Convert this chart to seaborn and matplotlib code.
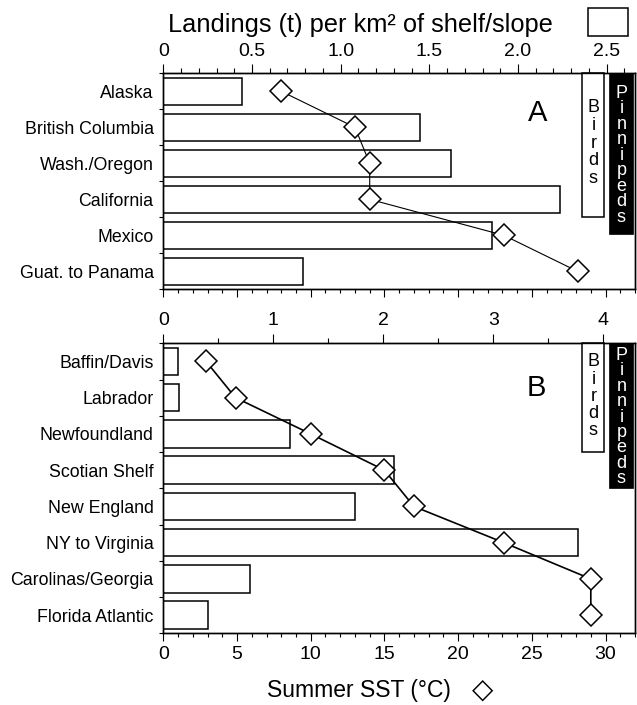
import numpy as np
import matplotlib
matplotlib.use("Agg")
import matplotlib.pyplot as plt
from matplotlib.patches import Rectangle
from matplotlib.ticker import MultipleLocator, FuncFormatter
import seaborn as sns

# panel A - Pacific coast
regions_a = ["Alaska", "British Columbia", "Wash./Oregon", "California",
             "Mexico", "Guat. to Panama"]
landings_a = [0.445, 1.45, 1.62, 2.235, 1.855, 0.79]
sst_a = [8.0, 13.0, 14.0, 14.0, 23.1, 28.1]

# panel B - Atlantic coast
regions_b = ["Baffin/Davis", "Labrador", "Newfoundland", "Scotian Shelf",
             "New England", "NY to Virginia", "Carolinas/Georgia", "Florida Atlantic"]
landings_b = [0.13, 0.145, 1.15, 2.1, 1.74, 3.77, 0.79, 0.41]
sst_b = [2.9, 4.9, 10.0, 15.0, 17.0, 23.1, 29.0, 29.0]

sns.set_style("ticks")
plt.rcParams["font.family"] = ["Liberation Sans", "DejaVu Sans"]
plt.rcParams["axes.edgecolor"] = "black"
plt.rcParams["axes.linewidth"] = 1.0
plt.rcParams["text.color"] = "black"
plt.rcParams["xtick.color"] = "black"
plt.rcParams["ytick.color"] = "black"
plt.rcParams["xtick.labelcolor"] = "black"
plt.rcParams["ytick.labelcolor"] = "black"

fig = plt.figure(figsize=(6.37, 7.05), dpi=100)
ax_a = fig.add_axes([0.2564, 0.5896, 0.7405, 0.3064])
ax_b = fig.add_axes([0.2564, 0.1017, 0.7405, 0.4113])


def land_fmt(v, pos):
    if abs(v) < 1e-9:
        return "0"
    return f"{v:.1f}"


def int_fmt(v, pos):
    return f"{v:.0f}"


def draw_panel(ax, regions, landings, sst, xmax, major, minor, fmt, letter,
               letter_y, birds, pinn, sst_labels, line_w, top_pad):
    n = len(regions)
    sns.barplot(x=landings, y=regions, orient="h", color="white", saturation=1,
                edgecolor="black", linewidth=1.1, width=0.76, ax=ax)

    # SST on the bottom axis (twin made first, twiny resets the parent ticks)
    ax2 = ax.twiny()
    ax2.set_xlim(0, 32)
    ax2.xaxis.tick_bottom()
    ax2.xaxis.set_major_locator(MultipleLocator(5))
    ax2.xaxis.set_minor_locator(MultipleLocator(1))
    ax2.tick_params(axis="x", which="major", length=5.5, width=0.8,
                    labelsize=14, pad=4, labelbottom=sst_labels, labeltop=False)
    ax2.tick_params(axis="x", which="minor", length=3, width=0.8)
    ax2.plot(sst, np.arange(n), color="black", lw=line_w, marker="D",
             markersize=11, markerfacecolor="white", markeredgecolor="black",
             markeredgewidth=1.1, zorder=5)

    ax.set_xlim(0, xmax)
    ax.set_ylim(n - 0.5, -0.5)
    ax.xaxis.tick_top()
    ax.xaxis.set_major_locator(MultipleLocator(major))
    ax.xaxis.set_minor_locator(MultipleLocator(minor))
    ax.xaxis.set_major_formatter(FuncFormatter(fmt))
    ax.tick_params(axis="x", which="major", length=6.5, width=0.8,
                   labelsize=14, pad=top_pad, top=True, bottom=False,
                   labeltop=True, labelbottom=False)
    ax.tick_params(axis="x", which="minor", length=3.5, width=0.8,
                   top=True, bottom=False)
    # category boundaries get tick marks, names sit between them
    ax.set_yticks(np.arange(n + 1) - 0.5)
    ax.set_yticklabels([])
    ax.set_yticks(np.arange(n), labels=regions, minor=True)
    ax.tick_params(axis="y", which="major", length=3, width=0.8)
    ax.tick_params(axis="y", which="minor", length=0, labelsize=12.8, pad=7)
    ax.set_xlabel("")
    ax.set_ylabel("")
    for s in ax.spines.values():
        s.set_visible(True)

    # Birds / Pinnipeds boxes
    bx0, bx1, by0 = birds
    ax.add_patch(Rectangle((bx0, by0), bx1 - bx0, 1 - by0, transform=ax.transAxes,
                           facecolor="white", edgecolor="black", lw=1.1,
                           clip_on=False, zorder=3))
    px0, px1, py0 = pinn
    ax.add_patch(Rectangle((px0, py0), px1 - px0, 1 - py0, transform=ax.transAxes,
                           facecolor="black", edgecolor="black", lw=0.5,
                           clip_on=False, zorder=3))
    ax.text(letter[1], letter_y, letter[0], transform=ax.transAxes, fontsize=21,
            ha="center", va="center")
    return ax2


ax2_a = draw_panel(ax_a, regions_a, landings_a, sst_a, 2.66, 0.5, 0.1, land_fmt,
                   ("A", 0.794), 0.815, (0.888, 0.935, 0.336),
                   (0.9455, 0.9964, 0.256), False, 0.8, 3.2)
ax2_b = draw_panel(ax_b, regions_b, landings_b, sst_b, 4.29, 1, 0.5, int_fmt,
                   ("B", 0.791), 0.845, (0.888, 0.935, 0.626),
                   (0.9455, 0.9964, 0.502), True, 1.2, 3.6)

# vertical labels in the boxes
ax_a.text(0.9116, 0.880, "\n".join("Birds"), transform=ax_a.transAxes,
          fontsize=13, ha="center", va="top", linespacing=1.05, zorder=4)
ax_a.text(0.971, 0.946, "\n".join("Pinnipeds"), transform=ax_a.transAxes,
          fontsize=13, ha="center", va="top", linespacing=0.88, color="white",
          zorder=4)
ax_b.text(0.9116, 0.9655, "\n".join("Birds"), transform=ax_b.transAxes,
          fontsize=13, ha="center", va="top", linespacing=1.02, zorder=4)
ax_b.text(0.971, 0.988, "\n".join("Pinnipeds"), transform=ax_b.transAxes,
          fontsize=13, ha="center", va="top", linespacing=0.88, color="white",
          zorder=4)

# axis titles
fig.text(0.566, 0.955, "Landings (t) per km² of shelf/slope", fontsize=18.3,
         ha="center", va="baseline")
fig.patches.append(Rectangle((0.9236, 0.949), 0.0619, 0.0393,
                             transform=fig.transFigure, facecolor="white",
                             edgecolor="black", lw=1.1))
fig.text(0.564, 0.011, "Summer SST (°C)", fontsize=16.5, ha="center",
         va="baseline")
fig.text(0.757, 0.011, "◇", fontsize=20, ha="center", va="baseline")

fig.savefig("out.png", dpi=100)
